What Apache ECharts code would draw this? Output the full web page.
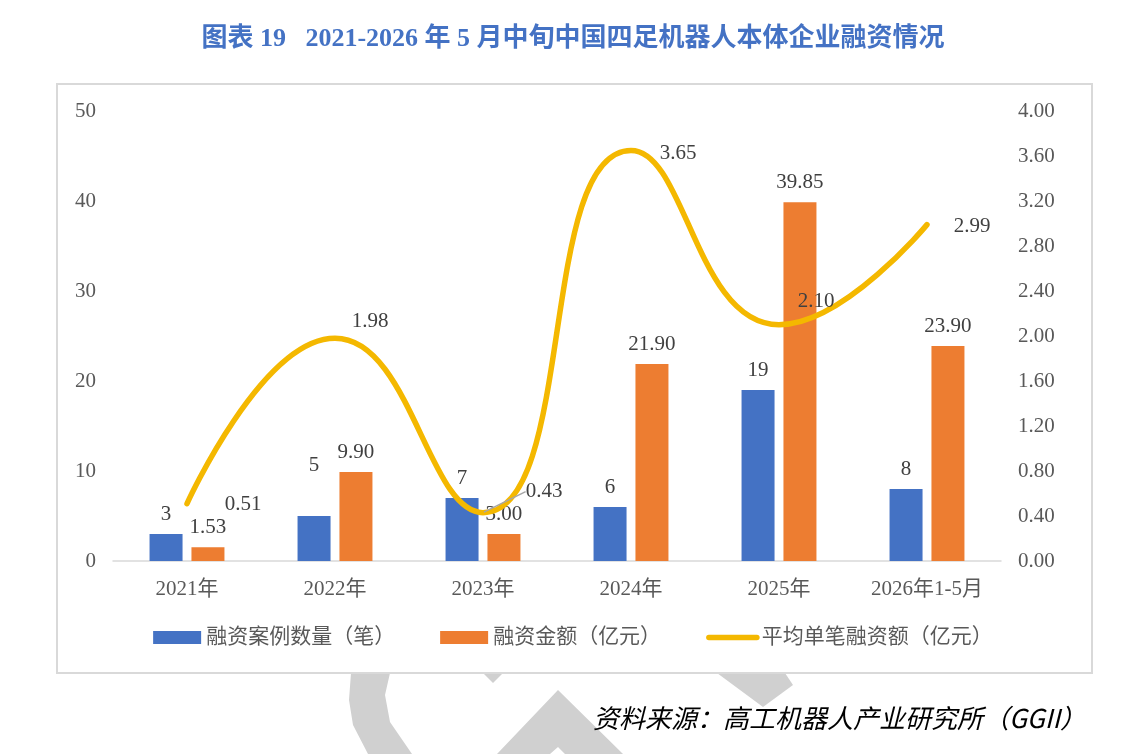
<!DOCTYPE html>
<html>
<head>
<meta charset="utf-8">
<script src="https://cdn.jsdelivr.net/npm/echarts@6/dist/echarts.min.js"></script>
<style>
  html, body { margin: 0; padding: 0; background: #fff; }
  #Funding { width: 1146px; height: 754px; }
</style>
</head>
<body>
<div id="Funding"></div>
<script>
// 数据
var years = ['2021年', '2022年', '2023年', '2024年', '2025年', '2026年1-5月'];
var dealCount = [3, 5, 7, 6, 19, 8];
var dealAmount = [1.53, 9.90, 3.00, 21.90, 39.85, 23.90];
var avgAmount = [0.51, 1.98, 0.43, 3.65, 2.10, 2.99];
var leftTicks = [0, 10, 20, 30, 40, 50];
var rightTicks = [0, 0.4, 0.8, 1.2, 1.6, 2.0, 2.4, 2.8, 3.2, 3.6, 4.0];

var numFont = '"Liberation Serif", "Noto Sans CJK SC", serif';
var cjkFont = '"Liberation Serif", "Noto Sans CJK SC", sans-serif';

// 折线标签的位置微调（相对数据点中心）
var avgShift = [[56, 1], [35, -17], [61, -21], [47, 3], [37, -23], [45, 2]];

var Funding = echarts.init(document.getElementById('Funding'));
Funding.setOption({
  animation: false,
  title: {
    text: '图表 19   2021-2026 年 5 月中旬中国四足机器人本体企业融资情况',
    left: 'center',
    top: 21,
    textStyle: {
      color: '#4472C4',
      fontSize: 26,
      fontWeight: 'bold',
      fontFamily: cjkFont
    }
  },
  legend: {
    bottom: 101,
    left: 'center',
    itemWidth: 48,
    itemHeight: 13,
    itemGap: 45,
    textStyle: { color: '#595959', fontSize: 21, fontFamily: cjkFont },
    data: [
      { name: '融资案例数量（笔）', icon: 'rect' },
      { name: '融资金额（亿元）', icon: 'rect' },
      {
        name: '平均单笔融资额（亿元）',
        itemStyle: { opacity: 0 },
        lineStyle: { width: 5.5, color: '#F4B800', cap: 'round' }
      }
    ]
  },
  grid: {
    left: 113,
    right: 145,
    top: 111,
    bottom: 193
  },
  xAxis: {
    type: 'category',
    data: years,
    axisLine: { lineStyle: { color: '#D9D9D9', width: 1.5 } },
    axisTick: { show: false },
    axisLabel: { color: '#595959', fontSize: 21, margin: 18, fontFamily: cjkFont }
  },
  yAxis: [
    {
      type: 'value',
      min: leftTicks[0],
      max: leftTicks[leftTicks.length - 1],
      interval: 10,
      splitLine: { show: false },
      axisLine: { show: false },
      axisLabel: { color: '#595959', fontSize: 21, margin: 17, fontFamily: numFont }
    },
    {
      type: 'value',
      min: rightTicks[0],
      max: rightTicks[rightTicks.length - 1],
      interval: 0.4,
      splitLine: { show: false },
      axisLine: { show: false },
      axisLabel: {
        color: '#595959', fontSize: 21, margin: 17, fontFamily: numFont,
        formatter: function (v) { return v.toFixed(2); }
      }
    }
  ],
  series: [
    {
      name: '融资案例数量（笔）',
      type: 'bar',
      barWidth: 33,
      barGap: '27%',
      itemStyle: { color: '#4472C4' },
      label: {
        show: true, position: 'top', distance: 9,
        color: '#404040', fontSize: 21, fontFamily: numFont
      },
      data: dealCount.map(function (v, i) {
        return i === 1 ? { value: v, label: { distance: 40 } } : v;
      })
    },
    {
      name: '融资金额（亿元）',
      type: 'bar',
      barWidth: 33,
      barGap: '27%',
      itemStyle: { color: '#ED7D31' },
      label: {
        show: true, position: 'top', distance: 9,
        color: '#404040', fontSize: 21, fontFamily: numFont,
        formatter: function (p) { return p.value.toFixed(2); }
      },
      data: dealAmount
    },
    {
      name: '平均单笔融资额（亿元）',
      type: 'line',
      yAxisIndex: 1,
      smooth: 0.5,
      symbol: 'circle',
      symbolSize: 2,
      itemStyle: { color: '#F4B800' },
      lineStyle: { color: '#F4B800', width: 5.5, cap: 'round' },
      label: {
        show: true, position: 'inside',
        color: '#404040', fontSize: 21, fontFamily: numFont,
        formatter: function (p) { return p.value.toFixed(2); }
      },
      labelLine: { show: false, lineStyle: { color: '#A6A6A6', width: 1.5 } },
      labelLayout: function (p) {
        var s = avgShift[p.dataIndex];
        return { dx: s[0], dy: s[1] };
      },
      data: avgAmount.map(function (v, i) {
        return i === 2 ? { value: v, labelLine: { show: true } } : v;
      }),
      z: 5
    }
  ],
  graphic: [
    // 水印
    {
      type: 'polygon', z: 0, silent: true,
      shape: { points: [[351, 673], [390, 673], [385, 695], [390, 722], [412, 754], [368, 754], [353, 725], [349, 700]] },
      style: { fill: '#D0D0D0' }
    },
    {
      type: 'polygon', z: 0, silent: true,
      shape: { points: [[483, 673], [503, 673], [493, 683]] },
      style: { fill: '#D0D0D0' }
    },
    {
      type: 'polygon', z: 0, silent: true,
      shape: { points: [[497, 754], [558, 690], [623, 754], [565, 754], [558, 747], [550, 754]] },
      style: { fill: '#D0D0D0' }
    },
    {
      type: 'polygon', z: 0, silent: true,
      shape: { points: [[717, 673], [785, 673], [793, 685], [763, 707]] },
      style: { fill: '#D0D0D0' }
    },
    // 图表外框
    {
      type: 'rect', z: 1, silent: true,
      shape: { x: 57, y: 84, width: 1035, height: 589 },
      style: { fill: null, stroke: '#D9D9D9', lineWidth: 2 }
    },
    {
      type: 'text', z: 2,
      x: 1086, y: 718,
      style: {
        text: '资料来源：高工机器人产业研究所（GGII）',
        align: 'right',
        verticalAlign: 'middle',
        fill: '#000',
        font: 'italic 26px "Noto Sans CJK SC", sans-serif'
      }
    }
  ]
});
</script>
</body>
</html>
